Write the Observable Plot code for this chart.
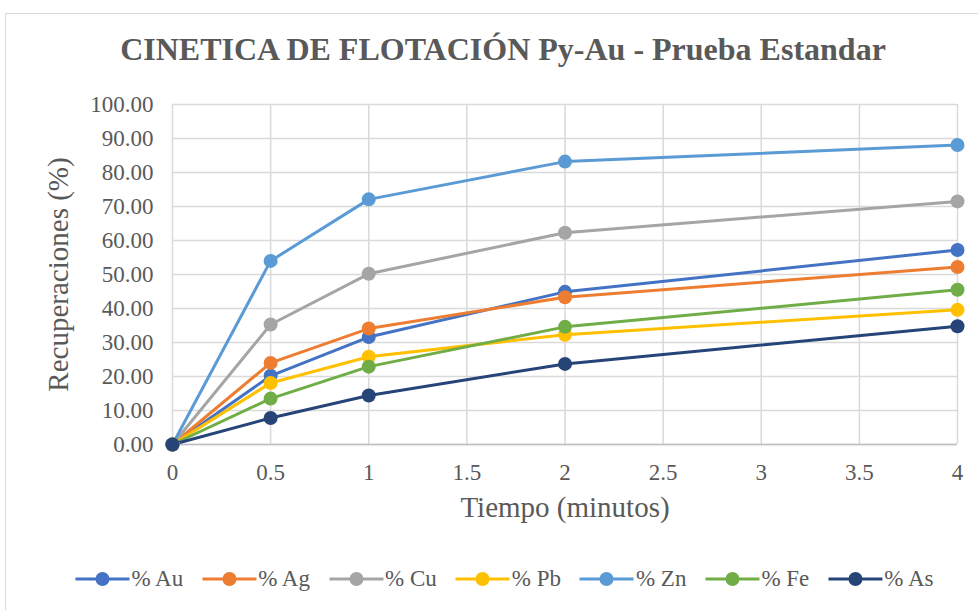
<!DOCTYPE html>
<html><head><meta charset="utf-8">
<script src="https://cdn.jsdelivr.net/npm/d3@7"></script>
<script src="https://cdn.jsdelivr.net/npm/@observablehq/plot@0.6"></script>
<style>
body{margin:0;background:#fff;font-family:"Liberation Serif","Times New Roman",serif;overflow:hidden;}
#frame{position:absolute;left:5px;top:13px;width:1000px;height:640px;border:1px solid #d9d9d9;box-sizing:border-box;}
#title{position:absolute;left:503px;top:31px;transform:translateX(-50%);white-space:nowrap;font-family:"Liberation Serif",serif;font-size:32px;font-weight:bold;color:#595959;}
#chart{position:absolute;left:0;top:84px;}
#legend{position:absolute;left:504px;top:566px;transform:translateX(-50%);white-space:nowrap;display:flex;gap:18px;font-size:23px;color:#595959;align-items:center;}
.item{display:flex;align-items:center;gap:1px;}
</style></head>
<body>
<div id="frame"></div>
<div id="title">CINETICA DE FLOTACIÓN Py-Au - Prueba Estandar</div>
<div id="chart"></div>
<div id="legend"></div>
<script>
const tiempos = [0, 0.5, 1, 2, 4];
const seriesNames = ["% Au", "% Ag", "% Cu", "% Pb", "% Zn", "% Fe", "% As"];
const seriesColors = ["#4472C4", "#ED7D31", "#A5A5A5", "#FFC000", "#5B9BD5", "#70AD47", "#264478"];
const au = [0, 20.2, 31.6, 44.9, 57.2];
const ag = [0, 24.0, 34.1, 43.3, 52.2];
const cu = [0, 35.3, 50.2, 62.3, 71.5];
const pb = [0, 18.1, 25.8, 32.3, 39.6];
const zn = [0, 54.0, 72.1, 83.2, 88.1];
const fe = [0, 13.5, 22.9, 34.6, 45.5];
const as = [0, 7.8, 14.4, 23.7, 34.8];
const yTicks = [0,10,20,30,40,50,60,70,80,90,100];
const xTicks = [0,0.5,1,1.5,2,2.5,3,3.5,4];

const allSeries = [au, ag, cu, pb, zn, fe, as];
const data = [];
allSeries.forEach((vals, i) => vals.forEach((v, j) => data.push({serie: seriesNames[i], t: tiempos[j], r: v})));

const chart = Plot.plot({
  width: 978, height: 460,
  marginLeft: 172, marginRight: 21, marginTop: 20, marginBottom: 100,
  style: {fontFamily: '"Liberation Serif","Times New Roman",serif', fontSize: "23px", color: "#595959", background: "transparent", overflow: "visible"},
  x: {domain: [0, 4]},
  y: {domain: [0, 100]},
  color: {domain: seriesNames, range: seriesColors},
  marks: [
    Plot.gridY(yTicks, {stroke: "#d9d9d9", strokeOpacity: 1, strokeWidth: 1.5}),
    Plot.gridX(xTicks, {stroke: "#d9d9d9", strokeOpacity: 1, strokeWidth: 1.5}),
    Plot.ruleY([0], {stroke: "#bfbfbf", strokeWidth: 1.5}),
    Plot.axisX({ticks: xTicks, tickFormat: d => String(d), tickSize: 0, tickPadding: 19, label: "Tiempo (minutos)", labelAnchor: "center", labelOffset: 72, labelArrow: "none", fontSize: 23}),
    Plot.axisY({ticks: yTicks, tickFormat: d3.format(".2f"), tickSize: 0, tickPadding: 19, label: "Recuperaciones (%)", labelAnchor: "center", labelOffset: 125, labelArrow: "none", fontSize: 23}),
    ...seriesNames.map(s => Plot.line(data.filter(d => d.serie === s), {x: "t", y: "r", stroke: "serie", strokeWidth: 3})),
    ...seriesNames.map(s => Plot.dot(data.filter(d => d.serie === s), {x: "t", y: "r", fill: "serie", r: 7}))
  ]
});
chart.querySelectorAll('[aria-label="x-axis label"] text, [aria-label="y-axis label"] text').forEach(t => t.style.fontSize = "29px");
chart.querySelectorAll('[aria-label="x-axis label"], [aria-label="y-axis label"]').forEach(g => g.setAttribute("font-size", "29"));
document.getElementById("chart").appendChild(chart);

const legend = document.getElementById("legend");
seriesNames.forEach((s, i) => {
  const it = document.createElement("div");
  it.className = "item";
  it.innerHTML = `<svg width="56" height="16"><line x1="1" x2="55" y1="8" y2="8" stroke="${seriesColors[i]}" stroke-width="3"/><circle cx="28" cy="8" r="7" fill="${seriesColors[i]}"/></svg><span>${s}</span>`;
  legend.appendChild(it);
});
</script>
</body></html>
